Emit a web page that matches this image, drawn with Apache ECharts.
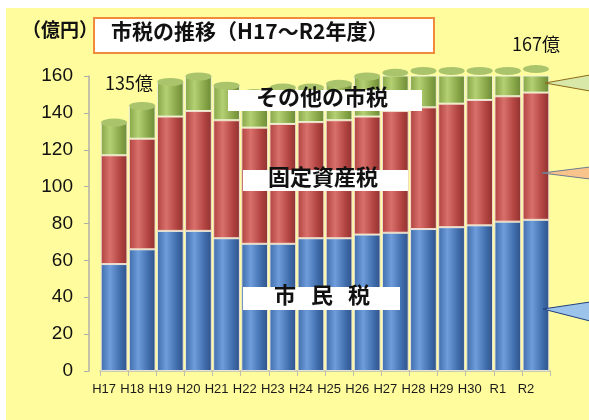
<!DOCTYPE html>
<html>
<head>
<meta charset="utf-8">
<script src="https://cdn.jsdelivr.net/npm/echarts@6/dist/echarts.min.js"></script>
<style>
  html, body { margin: 0; padding: 0; background: #fff; }
  #main { width: 589px; height: 420px; }
</style>
</head>
<body>
<div id="main"></div>
<script>
// 年度
var years = ['H17', 'H18', 'H19', 'H20', 'H21', 'H22', 'H23', 'H24', 'H25', 'H26', 'H27', 'H28', 'H29', 'H30', 'R1', 'R2'];
// 市民税 (億円)
var shiminzei = [58, 66, 76, 76, 72, 69, 69, 72, 72, 74, 75, 77, 78, 79, 81, 82];
// 固定資産税
var koteishisanzei = [59, 60, 62, 65, 64, 63, 65, 63, 64, 64, 66, 66, 67, 68, 68, 69];
// その他の市税
var sonota = [18, 18, 19, 19, 19, 19, 20, 19, 20, 22, 21, 20, 18, 16, 14, 13];
var yTicks = [0, 20, 40, 60, 80, 100, 120, 140, 160];

var totals = [];
for (var i = 0; i < years.length; i++) {
    totals.push(shiminzei[i] + koteishisanzei[i] + sonota[i]);
}

// 円柱っぽいグラデーション
function cyl(dark, light, dark2) {
    return new echarts.graphic.LinearGradient(0, 0, 1, 0, [
        { offset: 0, color: dark },
        { offset: 0.35, color: light },
        { offset: 0.75, color: dark },
        { offset: 1, color: dark2 }
    ]);
}

var chart = echarts.init(document.getElementById('main'));
var jp = '"Noto Sans CJK JP", sans-serif';

var option = {
    animation: false,
    backgroundColor: '#ffffff',
    grid: { left: 100, right: 39, top: 76, bottom: 49 },
    xAxis: {
        type: 'category',
        data: years,
        axisLine: { lineStyle: { color: '#bdbdb0', width: 1.5 } },
        axisTick: { show: true, length: 5, lineStyle: { color: '#bdbdb0' } },
        axisLabel: {
            interval: 0,
            color: '#1a1a1a', fontSize: 13, fontFamily: '"Liberation Sans", Arial',
            margin: 12, padding: [0, 20, 0, 0]
        }
    },
    yAxis: {
        type: 'value',
        min: 0, max: 160, interval: 20,
        offset: 11,
        axisLine: { show: true, lineStyle: { color: '#b0b0a8', width: 1.5 } },
        axisTick: { show: true, length: 5, lineStyle: { color: '#b0b0a8' } },
        splitLine: { show: false },
        axisLabel: {
            color: '#111', fontSize: 19, fontFamily: '"Liberation Sans", Arial', margin: 16,
            formatter: function (v) { return yTicks.indexOf(v) >= 0 ? String(v) : ''; }
        }
    },
    series: [{
        name: '市民税',
        type: 'bar',
        stack: 'tax',
        barCategoryGap: '5%',
        data: shiminzei,
        itemStyle: { color: cyl('#3f6cab', '#6e9ddb', '#2f5288'), borderColor: '#e9e4da', borderWidth: 1 }
    }, {
        name: '固定資産税',
        type: 'bar',
        stack: 'tax',
        data: koteishisanzei,
        itemStyle: { color: cyl('#b0423f', '#d9706b', '#8e3331'), borderColor: '#f0dcd0', borderWidth: 1 }
    }, {
        name: 'その他の市税',
        type: 'bar',
        stack: 'tax',
        data: sonota,
        itemStyle: { color: cyl('#86a547', '#b4d072', '#6c8a36'), borderColor: '#eef2d8', borderWidth: 1 }
    }, {
        name: 'top',
        type: 'pictorialBar',
        symbol: 'circle',
        symbolSize: [26, 8],
        symbolPosition: 'end',
        symbolOffset: [0, '-50%'],
        barCategoryGap: '5%',
        z: 5,
        data: totals,
        itemStyle: { color: '#a9c46a', borderColor: '#f0f4de', borderWidth: 1.5 }
    }],
    graphic: [
        { type: 'rect', shape: { x: 6, y: 8, width: 583, height: 412 }, style: { fill: '#fffc9e' }, z: -10 },
        // 単位
        { type: 'text', left: 22, top: 20, style: { text: '（億円）', font: 'bold 19px ' + jp, fill: '#111' } },
        // タイトル
        { type: 'rect', shape: { x: 94, y: 18, width: 340, height: 35 }, style: { fill: '#fff', stroke: '#f08a3c', lineWidth: 2 } },
        { type: 'text', left: 111, top: 21, style: { text: '市税の推移（H17～R2年度）', font: 'bold 21px ' + jp, fill: '#111' } },
        // 合計
        { type: 'text', left: 105, top: 74, style: { text: '135億', font: '18px ' + jp, fill: '#111' } },
        { type: 'text', left: 512, top: 35, style: { text: '167億', font: '18px ' + jp, fill: '#111' } },
        // 凡例ラベル
        { type: 'rect', shape: { x: 228, y: 90, width: 194, height: 21 }, style: { fill: '#fff' }, z: 10 },
        { type: 'text', left: 256, top: 86, z: 11, style: { text: 'その他の市税', font: 'bold 22px ' + jp, fill: '#111' } },
        { type: 'rect', shape: { x: 243, y: 170, width: 165, height: 21 }, style: { fill: '#fff' }, z: 10 },
        { type: 'text', left: 268, top: 166, z: 11, style: { text: '固定資産税', font: 'bold 22px ' + jp, fill: '#111' } },
        { type: 'rect', shape: { x: 243, y: 287, width: 157, height: 23 }, style: { fill: '#fff' }, z: 10 },
        { type: 'text', left: 274, top: 284, z: 11, style: { text: '市', font: 'bold 22px ' + jp, fill: '#111' } },
        { type: 'text', left: 311, top: 284, z: 11, style: { text: '民', font: 'bold 22px ' + jp, fill: '#111' } },
        { type: 'text', left: 348, top: 284, z: 11, style: { text: '税', font: 'bold 22px ' + jp, fill: '#111' } },
        // 吹き出し
        { type: 'polygon', z: 12, shape: { points: [[545, 83], [590, 75], [590, 91]] }, style: { fill: '#d8e8a8', stroke: '#8a6a1a', lineWidth: 1 } },
        { type: 'polygon', z: 12, shape: { points: [[542, 173], [590, 167], [590, 179]] }, style: { fill: '#f9c48c', stroke: '#6a7a90', lineWidth: 1 } },
        { type: 'polygon', z: 12, shape: { points: [[543, 309], [590, 302], [590, 321]] }, style: { fill: '#9cc4ea', stroke: '#1f3f80', lineWidth: 1 } }
    ]
};

chart.setOption(option);
</script>
</body>
</html>
